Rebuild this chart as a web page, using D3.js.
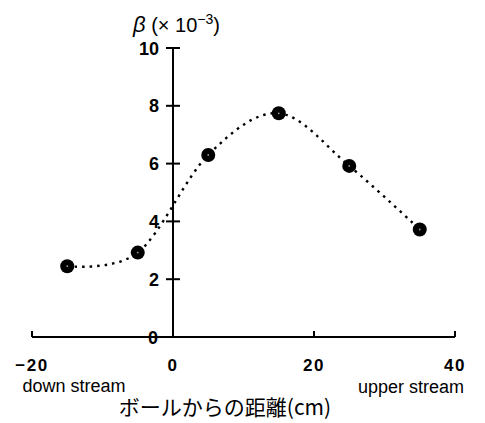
<!DOCTYPE html>
<html>
<head>
<meta charset="utf-8">
<script src="https://cdn.jsdelivr.net/npm/d3@7"></script>
<style>
  body { margin: 0; background: #fff; }
  text { font-family: "Liberation Sans", Arial, sans-serif; fill: #000; }
</style>
</head>
<body>
<svg id="chart"></svg>
<script>
// distance from the ball (cm) and beta (x10^-3)
let distances = [-15, -5, 5, 15, 25, 35]
let betas = [2.45, 2.92, 6.3, 7.74, 5.92, 3.72]
let xTicks = [-20, 0, 20, 40]
let yTicks = [0, 2, 4, 6, 8, 10]

function init() {
    let width = 485,
        height = 423,
        svg = d3.select('#chart').attr('width', width).attr('height', height)

    let xScale = d3.scaleLinear().domain([-20, 40]).range([32, 455])
    let yScale = d3.scaleLinear().domain([0, 10]).range([337, 48])

    // x axis: plain line with small upward ticks
    svg.append('line')
        .attr('x1', xScale(-20)).attr('x2', xScale(40))
        .attr('y1', yScale(0)).attr('y2', yScale(0))
        .attr('stroke', '#000').attr('stroke-width', 2)
    svg.selectAll('line.xtick')
        .data(xTicks.filter(d => d !== 0))
        .enter()
        .append('line')
        .attr('class', 'xtick')
        .attr('x1', d => xScale(d)).attr('x2', d => xScale(d))
        .attr('y1', yScale(0)).attr('y2', yScale(0) - 6)
        .attr('stroke', '#000').attr('stroke-width', 2)
    svg.selectAll('text.xlab')
        .data(xTicks)
        .enter()
        .append('text')
        .attr('class', 'xlab')
        .attr('x', d => xScale(d))
        .attr('y', 371)
        .attr('text-anchor', 'middle')
        .attr('font-size', '17px')
        .attr('font-weight', 'bold')
        .attr('letter-spacing', '1.5px')
        .text(d => d === -20 ? '\u221220' : d)

    // y axis crossing at x = 0
    svg.append('line')
        .attr('x1', xScale(0)).attr('x2', xScale(0))
        .attr('y1', yScale(0)).attr('y2', yScale(10))
        .attr('stroke', '#000').attr('stroke-width', 2)
    svg.selectAll('line.ytick')
        .data(yTicks.filter(d => d !== 0))
        .enter()
        .append('line')
        .attr('class', 'ytick')
        .attr('x1', xScale(0) - 7).attr('x2', xScale(0) + 7)
        .attr('y1', d => yScale(d)).attr('y2', d => yScale(d))
        .attr('stroke', '#000').attr('stroke-width', 2)
    svg.selectAll('text.ylab')
        .data(yTicks)
        .enter()
        .append('text')
        .attr('class', 'ylab')
        .attr('x', d => d === 0 ? xScale(0) - 15 : xScale(0) - 14)
        .attr('y', d => yScale(d))
        .attr('dy', '0.37em')
        .attr('text-anchor', 'end')
        .attr('font-size', '18px')
        .attr('font-weight', 'bold')
        .text(d => d)

    // axis title on top
    let title = svg.append('text')
        .attr('x', 133).attr('y', 32)
        .attr('font-size', '20px')
    title.append('tspan').attr('font-style', 'italic').attr('font-size', '22px').text('\u03b2')
    title.append('tspan').text(' (\u00d7 10')
    title.append('tspan').attr('font-size', '14px').attr('dy', -8).text('\u22123')
    title.append('tspan').attr('dy', 8).text(')')

    svg.append('text').attr('x', 74).attr('y', 392)
        .attr('text-anchor', 'middle').attr('font-size', '18px')
        .text('down stream')
    svg.append('text').attr('x', 411).attr('y', 393)
        .attr('text-anchor', 'middle').attr('font-size', '18px')
        .text('upper stream')
    svg.append('text').attr('x', 225).attr('y', 415)
        .attr('text-anchor', 'middle').attr('font-size', '21px')
        .style('font-family', '"Noto Sans CJK JP", sans-serif')
        .text('ボールからの距離(cm)')

    let pts = distances.map((d, i) => [d, betas[i]])

    let line = d3.line()
        .x(d => xScale(d[0]))
        .y(d => yScale(d[1]))
        .curve(d3.curveCardinal.tension(0))

    svg.append('path')
        .datum(pts)
        .attr('d', line)
        .attr('fill', 'none')
        .attr('stroke', '#000')
        .attr('stroke-width', 2.4)
        .attr('stroke-dasharray', '2.5 5')

    svg.selectAll('circle.pt')
        .data(pts)
        .enter()
        .append('circle')
        .attr('class', 'pt')
        .attr('cx', d => xScale(d[0]))
        .attr('cy', d => yScale(d[1]))
        .attr('r', 7)
        .attr('fill', '#000')
    svg.selectAll('circle.dot')
        .data(pts)
        .enter()
        .append('circle')
        .attr('class', 'dot')
        .attr('cx', d => xScale(d[0]))
        .attr('cy', d => yScale(d[1]))
        .attr('r', 0.9)
        .attr('fill', '#999')
}

onload = function () {
    init()
}
</script>
</body>
</html>
